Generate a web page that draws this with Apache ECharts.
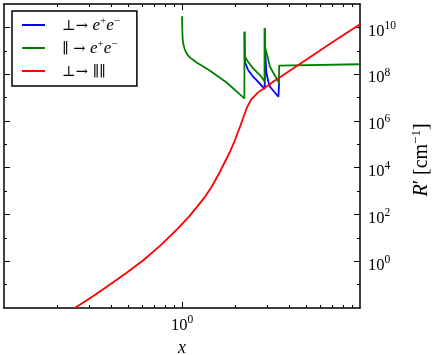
<!DOCTYPE html>
<html>
<head>
<meta charset="utf-8">
<script src="https://cdn.jsdelivr.net/npm/echarts@6/dist/echarts.min.js"></script>
<style>
  html, body { margin: 0; padding: 0; background: #fff; }
  #chart { width: 436px; height: 355px; }
</style>
</head>
<body>
<div id="chart"></div>
<script>
// perp -> e+e-
const blueX = [2.245, 2.255, 2.35, 2.51, 2.73, 2.915, 2.915, 2.925, 2.976, 3.05, 3.12, 3.48, 3.51, 3.51];
const blueY = [6.5e9, 3.4e8, 1.5e8, 7.8e7, 4.05e7, 2.3e7, 9.1e9, 1.5e9, 1.2e8, 5e7, 2.9e7, 1.08e7, 1.0e7, 3.8e7];
// par -> e+e-
const greenX = [1.0, 1.0039, 1.009, 1.0196, 1.0396, 1.0669, 1.109, 1.157, 1.214, 1.295, 1.436, 1.78, 2.24,
  2.245, 2.25, 2.29, 2.35, 2.51, 2.79, 2.915, 2.915, 2.925, 2.99, 3.12, 3.48, 3.51, 3.51, 10];
const greenY = [3e10, 7.7e9, 2.9e9, 1.76e9, 1.07e9, 7.2e8, 5.1e8, 4.0e8, 3.1e8, 2.27e8, 1.41e8, 4.4e7, 9.2e6,
  6.5e9, 6.5e8, 4.5e8, 3.4e8, 1.77e8, 7.8e7, 4.8e7, 9.1e9, 1.5e9, 7.8e8, 2.07e8, 4.7e7, 3.8e7, 2.3e8, 2.65e8];
// perp -> par par
const redX = [0.25, 0.3175, 0.394, 0.489, 0.606, 0.752, 0.934, 1.099, 1.346, 1.469, 1.635, 1.86, 1.985, 2.118,
  2.31, 2.45, 2.67, 2.93, 3.33, 4.05, 6.79, 10];
const redY = [0.01, 0.0328, 0.101, 0.319, 1.1, 4.56, 22.4, 82.4, 567, 1535, 6720, 4.8e4, 1.52e5, 5.65e5,
  3.56e6, 8.4e6, 1.62e7, 2.7e7, 5.4e7, 1.42e8, 1.98e9, 1.35e10];

const seriesNames = ['⊥→ e⁺e⁻', '∥ → e⁺e⁻', '⊥→ ∥∥'];
const legendRich = [
  '{n|⊥→ }{i|e}{s|+}{i|e}{s|−}',
  '{n|∥ → }{i|e}{s|+}{i|e}{s|−}',
  '{n|⊥→ ∥∥}'
];

const xMajorTicks = [1];
const xMinorTicks = [0.2, 0.3, 0.4, 0.5, 0.6, 0.7, 0.8, 0.9, 2, 3, 4, 5, 6, 7, 8, 9];
const yMajorTicks = [1, 1e2, 1e4, 1e6, 1e8, 1e10];
const yMinorTicks = [0.1, 10, 1e3, 1e5, 1e7, 1e9];

const SERIF = '"Liberation Serif", "DejaVu Serif", serif';
const SYM = '"DejaVu Serif", serif';
const pairs = (xs, ys) => xs.map((x, i) => [x, ys[i]]);
const powLabel = v => '{b|10}{s|' + Math.round(Math.log10(v)) + '}';
const powRich = {
  b: { fontFamily: SERIF, fontSize: 16.5, color: '#000', lineHeight: 20, verticalAlign: 'bottom' },
  s: { fontFamily: SERIF, fontSize: 11.5, color: '#000', lineHeight: 12, verticalAlign: 'top' }
};
const frame = { show: true, lineStyle: { color: '#000', width: 1.5 } };

const xBase = { type: 'log', logBase: 10, min: 0.1, max: 10, splitLine: { show: false } };
const yBase = { type: 'log', logBase: 10, min: 0.01, max: 1e11, splitLine: { show: false } };

let chart = echarts.init(document.getElementById('chart'), null, { renderer: 'canvas' });

let option = {
  animation: false,
  backgroundColor: '#fff',
  grid: [
    { left: 4, right: 76, top: 4, bottom: 47, containLabel: false, outerBoundsMode: 'none' },
    { left: 4, right: 76, top: 4, bottom: 47, containLabel: false, outerBoundsMode: 'none' }
  ],
  legend: {
    data: seriesNames,
    orient: 'vertical',
    left: 12,
    top: 11,
    padding: [5, 17, 6, 10],
    itemGap: 5,
    itemWidth: 23,
    itemHeight: 2,
    icon: 'rect',
    backgroundColor: '#fff',
    borderColor: '#000',
    borderWidth: 1.5,
    borderRadius: 0,
    formatter: name => legendRich[seriesNames.indexOf(name)],
    textStyle: {
      lineHeight: 18,
      rich: {
        n: { fontFamily: SYM, fontSize: 14.5, color: '#000', padding: [0, 0, 0, 12], lineHeight: 18, verticalAlign: 'bottom' },
        i: { fontFamily: SERIF, fontStyle: 'italic', fontSize: 17, color: '#000', lineHeight: 18, verticalAlign: 'bottom' },
        s: { fontFamily: SERIF, fontSize: 11, color: '#000', lineHeight: 10, verticalAlign: 'top' }
      }
    }
  },
  xAxis: [
    Object.assign({}, xBase, {
      gridIndex: 0, position: 'bottom',
      axisLine: frame,
      axisTick: { show: true, inside: true, length: 3, customValues: xMinorTicks, lineStyle: { color: '#000', width: 1 } },
      axisLabel: { show: true, customValues: xMajorTicks, formatter: powLabel, rich: powRich, margin: 6 },
      name: 'x', nameLocation: 'middle', nameGap: 22,
      nameTextStyle: { fontFamily: SERIF, fontStyle: 'italic', fontSize: 18, color: '#000' }
    }),
    Object.assign({}, xBase, {
      gridIndex: 0, position: 'top',
      axisLine: frame,
      axisTick: { show: true, inside: true, length: 3, customValues: xMinorTicks, lineStyle: { color: '#000', width: 1 } },
      axisLabel: { show: false }
    }),
    Object.assign({}, xBase, {
      gridIndex: 1, position: 'bottom',
      axisLine: { show: false },
      axisTick: { show: true, inside: true, length: 6, customValues: xMajorTicks, lineStyle: { color: '#000', width: 1 } },
      axisLabel: { show: false }
    }),
    Object.assign({}, xBase, {
      gridIndex: 1, position: 'top',
      axisLine: { show: false },
      axisTick: { show: true, inside: true, length: 6, customValues: xMajorTicks, lineStyle: { color: '#000', width: 1 } },
      axisLabel: { show: false }
    })
  ],
  yAxis: [
    Object.assign({}, yBase, {
      gridIndex: 0, position: 'right',
      axisLine: frame,
      axisTick: { show: true, inside: true, length: 3, customValues: yMinorTicks, lineStyle: { color: '#000', width: 1 } },
      axisLabel: { show: true, customValues: yMajorTicks, formatter: powLabel, rich: powRich, margin: 8, padding: [5, 0, 0, 0] },
      name: '{i|R}{n|′ [cm}{s|−1}{n|]}', nameLocation: 'middle', nameRotate: 90, nameGap: 50,
      nameTextStyle: {
        padding: [0, 8, 0, 0],
        rich: {
          i: { fontFamily: SERIF, fontStyle: 'italic', fontSize: 20, color: '#000', lineHeight: 22, verticalAlign: 'bottom' },
          n: { fontFamily: SERIF, fontSize: 20, color: '#000', lineHeight: 22, verticalAlign: 'bottom' },
          s: { fontFamily: SERIF, fontSize: 13, color: '#000', lineHeight: 13, verticalAlign: 'top' }
        }
      }
    }),
    Object.assign({}, yBase, {
      gridIndex: 0, position: 'left',
      axisLine: frame,
      axisTick: { show: true, inside: true, length: 3, customValues: yMinorTicks, lineStyle: { color: '#000', width: 1 } },
      axisLabel: { show: false }
    }),
    Object.assign({}, yBase, {
      gridIndex: 1, position: 'right',
      axisLine: { show: false },
      axisTick: { show: true, inside: true, length: 6, customValues: yMajorTicks, lineStyle: { color: '#000', width: 1 } },
      axisLabel: { show: false }
    }),
    Object.assign({}, yBase, {
      gridIndex: 1, position: 'left',
      axisLine: { show: false },
      axisTick: { show: true, inside: true, length: 6, customValues: yMajorTicks, lineStyle: { color: '#000', width: 1 } },
      axisLabel: { show: false }
    })
  ],
  series: [
    {
      name: seriesNames[0], type: 'line', xAxisIndex: 0, yAxisIndex: 0,
      data: pairs(blueX, blueY), showSymbol: false, symbol: 'none',
      color: '#0000ff', lineStyle: { color: '#0000ff', width: 1.8 }
    },
    {
      name: seriesNames[1], type: 'line', xAxisIndex: 0, yAxisIndex: 0,
      data: pairs(greenX, greenY), showSymbol: false, symbol: 'none',
      color: '#008000', lineStyle: { color: '#008000', width: 1.8 }
    },
    {
      name: seriesNames[2], type: 'line', xAxisIndex: 0, yAxisIndex: 0,
      data: pairs(redX, redY), showSymbol: false, symbol: 'none',
      color: '#ff0000', lineStyle: { color: '#ff0000', width: 1.8, join: 'round' }
    }
  ]
};

chart.setOption(option);
</script>
</body>
</html>
